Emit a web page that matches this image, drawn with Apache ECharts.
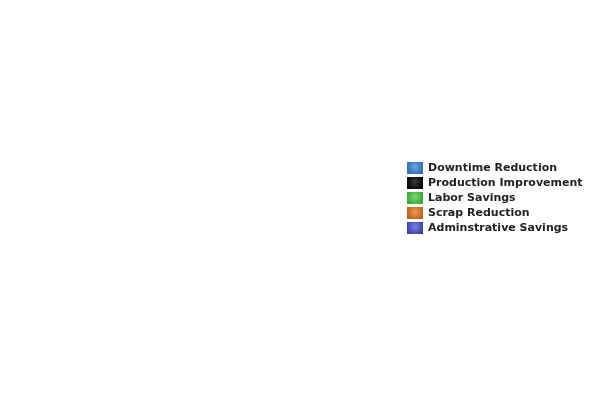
<!DOCTYPE html>
<html><head><meta charset="utf-8">
<script src="https://cdn.jsdelivr.net/npm/echarts@6/dist/echarts.min.js"></script>
<style>html,body{margin:0;padding:0;background:#fff}#c{width:600px;height:400px}</style>
</head><body><div id="c"></div>
<script>
var categories = ['Downtime Reduction','Production Improvement','Labor Savings','Scrap Reduction','Adminstrative Savings'];
var values = [0,0,0,0,0];
var colorsLight = ['#6aa6e0','#3a3a3a','#7ad870','#ec9a50','#7a80e0'];
var colorsDark = ['#2f6fb4','#050505','#38a838','#c0601a','#3a40a8'];
var chart = echarts.init(document.getElementById('c'));
chart.setOption({
  animation:false,
  legend:{orient:'vertical',left:402,top:157,itemWidth:16,itemHeight:12,itemGap:3,
    icon:'rect',
    textStyle:{fontFamily:'DejaVu Sans',fontWeight:'bold',fontSize:11,color:'#222'},
    data:categories},
  series:[{type:'pie',radius:'60%',center:['35%','50%'],stillShowZeroSum:false,label:{show:false},
    data:categories.map(function(n,i){return {name:n,value:values[i],itemStyle:{color:new echarts.graphic.RadialGradient(0.5,0.4,0.7,[{offset:0,color:colorsLight[i]},{offset:1,color:colorsDark[i]}])}};})}]
});
</script></body></html>
